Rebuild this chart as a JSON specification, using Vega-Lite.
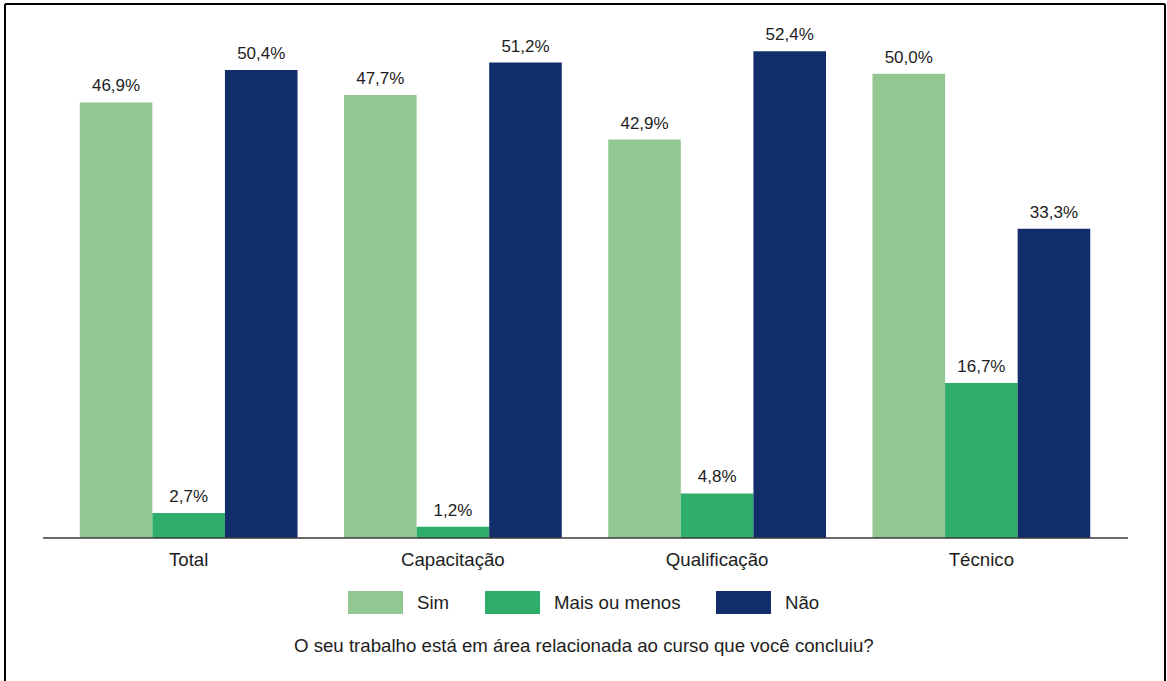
{
  "$schema": "https://vega.github.io/schema/vega-lite/v6.json",
  "width": 1160,
  "height": 677,
  "autosize": {"type": "none"},
  "padding": {"left": 5, "top": 4, "right": 2, "bottom": 0},
  "background": "white",
  "config": {
    "font": "Liberation Sans",
    "view": {"stroke": null},
    "locale": {"number": {"decimal": ",", "thousands": ".", "grouping": [3], "currency": ["R$", ""]}}
  },
  "datasets": {
    "main": [
      {"cat": "Total", "resp": "Sim", "v": 0.469},
      {"cat": "Total", "resp": "Mais ou menos", "v": 0.027},
      {"cat": "Total", "resp": "Não", "v": 0.504},
      {"cat": "Capacitação", "resp": "Sim", "v": 0.477},
      {"cat": "Capacitação", "resp": "Mais ou menos", "v": 0.012},
      {"cat": "Capacitação", "resp": "Não", "v": 0.512},
      {"cat": "Qualificação", "resp": "Sim", "v": 0.429},
      {"cat": "Qualificação", "resp": "Mais ou menos", "v": 0.048},
      {"cat": "Qualificação", "resp": "Não", "v": 0.524},
      {"cat": "Técnico", "resp": "Sim", "v": 0.5},
      {"cat": "Técnico", "resp": "Mais ou menos", "v": 0.167},
      {"cat": "Técnico", "resp": "Não", "v": 0.333}
    ],
    "cats": [
      {"cat": "Total"},
      {"cat": "Capacitação"},
      {"cat": "Qualificação"},
      {"cat": "Técnico"}
    ]
  },
  "layer": [
    {
      "layer": [
        {
          "data": {"name": "main"},
          "mark": {"type": "bar"},
          "encoding": {
            "x": {"field": "cat", "type": "nominal", "sort": ["Total", "Capacitação", "Qualificação", "Técnico"], "scale": {"domain": ["Total", "Capacitação", "Qualificação", "Técnico"], "paddingInner": 0, "paddingOuter": 0.195}, "axis": null},
            "xOffset": {"field": "resp", "type": "nominal", "sort": ["Sim", "Mais ou menos", "Não"], "scale": {"domain": ["Sim", "Mais ou menos", "Não"], "paddingInner": 0, "paddingOuter": 0.32}},
            "y": {"field": "v", "type": "quantitative", "scale": {"domain": [-0.154, 0.575], "nice": false, "zero": false}, "axis": null},
            "color": {
              "field": "resp", "type": "nominal",
              "scale": {"domain": ["Sim", "Mais ou menos", "Não"], "range": ["#93C791", "#2FAE6B", "#122E6A"]},
              "legend": {
                "orient": "none", "legendX": 343, "legendY": 571, "direction": "horizontal", "title": null,
                "symbolType": "M-1,-0.418H1V0.418H-1Z", "symbolSize": 3025, "symbolStrokeWidth": 0, "symbolOpacity": 1,
                "labelFontSize": 18.67, "labelColor": "#1d1d1d", "labelOffset": 14, "columnPadding": 35, "padding": 0
              }
            }
          }
        },
        {
          "data": {"name": "main"},
          "mark": {"type": "text", "align": "center", "baseline": "alphabetic", "dy": -11, "fontSize": 17, "color": "#1d1d1d"},
          "encoding": {
            "x": {"field": "cat", "type": "nominal", "sort": ["Total", "Capacitação", "Qualificação", "Técnico"], "scale": {"domain": ["Total", "Capacitação", "Qualificação", "Técnico"], "paddingInner": 0, "paddingOuter": 0.195}, "axis": null},
            "xOffset": {"field": "resp", "type": "nominal", "sort": ["Sim", "Mais ou menos", "Não"], "scale": {"domain": ["Sim", "Mais ou menos", "Não"], "paddingInner": 0, "paddingOuter": 0.32}},
            "y": {"field": "v", "type": "quantitative", "scale": {"domain": [-0.154, 0.575], "nice": false, "zero": false}, "axis": null},
            "text": {"field": "v", "type": "quantitative", "format": ".1%"}
          }
        },
        {
          "data": {"name": "cats"},
          "mark": {"type": "text", "align": "center", "baseline": "alphabetic", "fontSize": 18.67, "color": "#1d1d1d"},
          "encoding": {
            "x": {"field": "cat", "type": "nominal", "sort": ["Total", "Capacitação", "Qualificação", "Técnico"], "scale": {"domain": ["Total", "Capacitação", "Qualificação", "Técnico"], "paddingInner": 0, "paddingOuter": 0.195}, "axis": null},
            "y": {"datum": -0.0302, "type": "quantitative", "scale": {"domain": [-0.154, 0.575], "nice": false, "zero": false}, "axis": null},
            "text": {"field": "cat", "type": "nominal"}
          }
        }
      ]
    },
    {
      "layer": [
        {
          "data": {"values": [{}]},
          "mark": {"type": "rule", "color": "#000000", "strokeWidth": 2},
          "encoding": {
            "x": {"datum": 0, "type": "quantitative", "scale": {"domain": [0, 1], "nice": false, "zero": false}, "axis": null},
            "y": {"datum": 0.575, "type": "quantitative", "scale": {"domain": [-0.154, 0.575], "nice": false, "zero": false}, "axis": null},
            "y2": {"datum": -0.154}
          }
        },
        {
          "data": {"values": [{}]},
          "mark": {"type": "rule", "color": "#000000", "strokeWidth": 2},
          "encoding": {
            "x": {"datum": 1, "type": "quantitative", "scale": {"domain": [0, 1], "nice": false, "zero": false}, "axis": null},
            "y": {"datum": 0.575, "type": "quantitative", "scale": {"domain": [-0.154, 0.575], "nice": false, "zero": false}, "axis": null},
            "y2": {"datum": -0.154}
          }
        },
        {
          "data": {"values": [{}]},
          "mark": {"type": "rule", "color": "#000000", "strokeWidth": 2},
          "encoding": {
            "x": {"datum": 0, "type": "quantitative", "scale": {"domain": [0, 1], "nice": false, "zero": false}, "axis": null},
            "x2": {"datum": 1},
            "y": {"datum": 0.575, "type": "quantitative", "scale": {"domain": [-0.154, 0.575], "nice": false, "zero": false}, "axis": null}
          }
        },
        {
          "data": {"values": [{}]},
          "mark": {"type": "rule", "color": "#3a3a3a", "strokeWidth": 1.5},
          "encoding": {
            "x": {"datum": 0.0328, "type": "quantitative", "scale": {"domain": [0, 1], "nice": false, "zero": false}, "axis": null},
            "x2": {"datum": 0.968},
            "y": {"datum": 0, "type": "quantitative", "scale": {"domain": [-0.154, 0.575], "nice": false, "zero": false}, "axis": null}
          }
        },
        {
          "data": {"values": [{}]},
          "mark": {"type": "text", "align": "center", "baseline": "alphabetic", "fontSize": 18.67, "color": "#1d1d1d"},
          "encoding": {
            "x": {"datum": 0.499, "type": "quantitative", "scale": {"domain": [0, 1], "nice": false, "zero": false}, "axis": null},
            "y": {"datum": -0.1233, "type": "quantitative", "scale": {"domain": [-0.154, 0.575], "nice": false, "zero": false}, "axis": null},
            "text": {"value": "O seu trabalho está em área relacionada ao curso que você concluiu?"}
          }
        }
      ]
    }
  ],
  "resolve": {"scale": {"x": "independent"}}
}
